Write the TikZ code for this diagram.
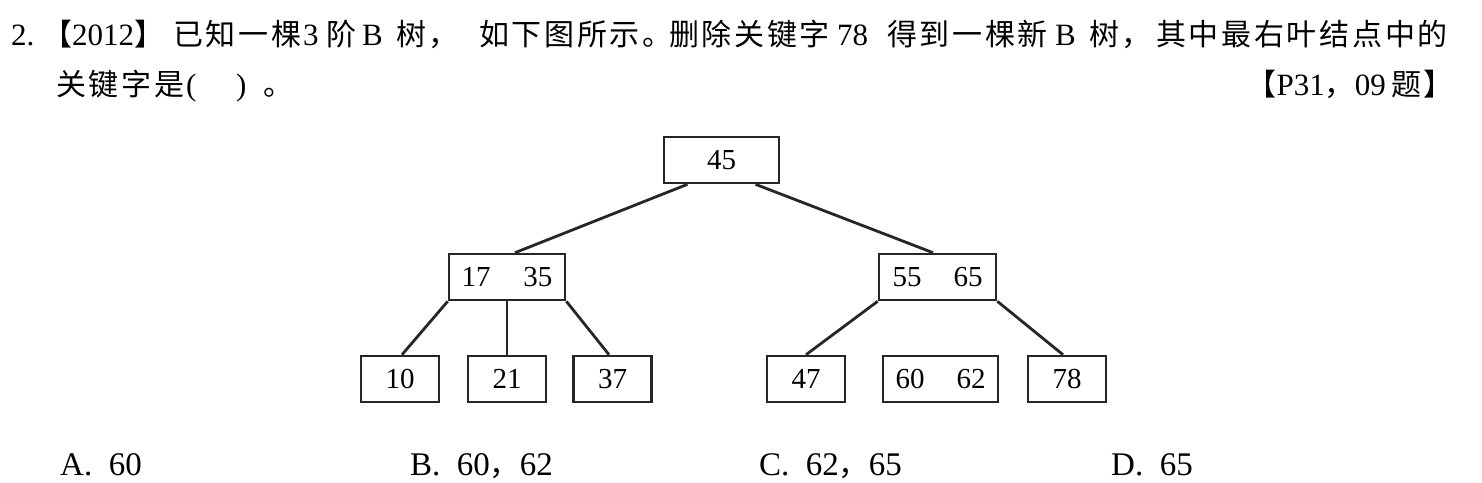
\documentclass[tikz,border=0pt]{standalone}
\usepackage{fontspec}
\setmainfont{Liberation Serif}
\newfontfamily\cjk[LetterSpace=9]{Noto Sans CJK SC}
\usetikzlibrary{calc}
\newcommand\zh[1]{{\fontsize{30}{36}\cjk #1}}
\tikzset{
  txt/.style={inner sep=0pt, anchor=base west, font=\fontsize{31}{37}\selectfont},
  ans/.style={inner sep=0pt, anchor=base west, font=\fontsize{33}{38}\selectfont},
  bnode/.style={draw=black!85, line width=2.6pt, minimum width=78pt, minimum height=46pt,
    inner sep=0pt, font=\fontsize{29}{34}\selectfont},
  link/.style={line width=2.8pt, draw=black!85},
}
\begin{document}
\begin{tikzpicture}[x=1pt,y=-1pt]
\useasboundingbox (0,0) rectangle (1482,482);
% question text, line 1
\node[txt] (t1)  at (11,45)   {2.};
\node[txt] (t2)  at (42,45)   {\zh{【}2012\zh{】}};
\node[txt] (t3)  at (173,45)  {\zh{已知一棵}};
\node[txt] (t4)  at (303,45)  {3};
\node[txt] (t5)  at (326,45)  {\zh{阶}};
\node[txt] (t6)  at (362,45)  {B};
\node[txt] (t7)  at (396,45)  {\zh{树，}};
\node[txt] (t8)  at (479,45)  {\zh{如下图所示。}};
\node[txt] (t9)  at (669,45)  {\zh{删除关键字}};
\node[txt] (t10) at (837,45)  {78};
\node[txt] (t11) at (887,45)  {\zh{得到一棵新}};
\node[txt] (t12) at (1055,45) {B};
\node[txt] (t13) at (1089,45) {\zh{树，}};
\node[txt] (t14) at (1156,45) {\zh{其中最右叶结点中的}};
% line 2
\node[txt] (u1) at (56,95)  {\zh{关键字是}};
\node[txt] (u2) at (186,95) {(};
\node[txt] (u3) at (236,95) {)};
\node[txt] (u4) at (263,95) {\zh{。}};
\node[txt, anchor=base east] (u5) at (1454,95) {\zh{【}P31\zh{，}09\,\zh{题】}};
% answers
\node[ans] (a) at (60,475)   {A.\ \ 60};
\node[ans] (b) at (410,475)  {B.\ \ 60\zh{，}62};
\node[ans] (c) at (759,475)  {C.\ \ 62\zh{，}65};
\node[ans] (d) at (1111,475) {D.\ \ 65};
% B-tree
\node[bnode, minimum width=115pt] (root) at (721.5,160) {45};
\node[bnode, minimum width=116pt] (L) at (507,277) {17\hspace{33pt}35};
\node[bnode, minimum width=117pt] (R) at (937.5,277) {55\hspace{32pt}65};
\node[bnode] (n10) at (400,379) {10};
\node[bnode] (n21) at (507,379) {21};
\node[bnode] (n37) at (612.5,379) {37};
\node[bnode] (n47) at (806,379) {47};
\node[bnode, minimum width=115pt] (n60) at (940.5,379) {60\hspace{32pt}62};
\node[bnode] (n78) at (1067,379) {78};
\draw[link] ($(root.south)+(-34,0)$) -- ($(L.north)+(8,0)$);
\draw[link] ($(root.south)+(34,0)$) -- ($(R.north)+(-4.5,0)$);
\draw[link] (L.south west) -- ($(n10.north)+(2,0)$);
\draw[link] (L.south) -- (L.south |- n21.north);
\draw[link] (L.south east) -- ($(n37.north)+(-3.5,0)$);
\draw[link] (R.south west) -- (n47.north);
\draw[link] ($(R.south)+(-1.5,0)$) -- ($(R.south)+(-1.5,0)$ |- n60.north);
\draw[link] (R.south east) -- ($(n78.north)+(-4,0)$);
\end{tikzpicture}
\end{document}
